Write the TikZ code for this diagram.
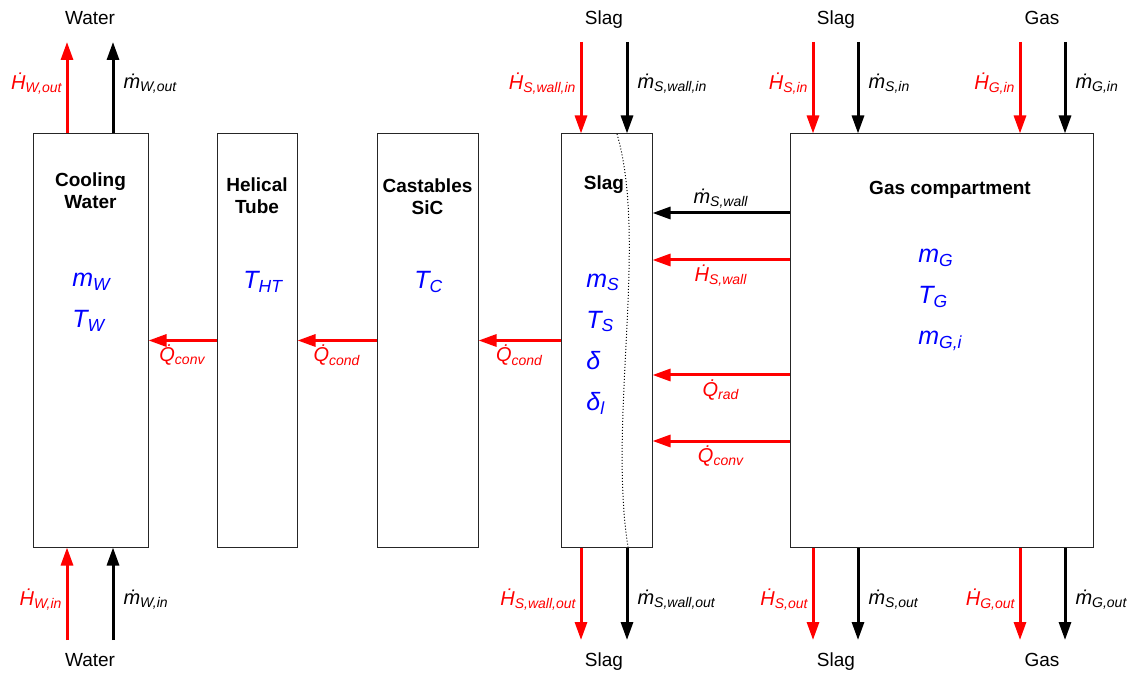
\documentclass[tikz,border=0pt]{standalone}
\usepackage{fontspec}
\setmainfont{Liberation Sans}
\usetikzlibrary{arrows.meta,positioning}
\definecolor{flowred}{RGB}{255,0,0}
\definecolor{varblue}{RGB}{0,0,255}
\newcommand{\rate}[2]{\textit{\.{#1}\textsubscript{#2}}}
\newcommand{\svar}[2]{\textit{#1\textsubscript{#2}}}
\tikzset{
  compbox/.style={draw=black!85,line width=0.5pt,minimum height=206.5pt,inner sep=0pt},
  boxtitle/.style={font=\bfseries\fontsize{9.5}{11}\selectfont,align=center},
  statevar/.style={text=varblue,font=\fontsize{12.5}{20.5}\selectfont,align=left,anchor=west,inner sep=0pt},
  streamlabel/.style={font=\fontsize{9.5}{11}\selectfont,text height=1.6ex,text depth=.4ex},
  enthalpyarrow/.style={-{Triangle[length=9pt,width=6pt]},line width=1.5pt,draw=flowred},
  massarrow/.style={-{Triangle[length=9pt,width=6pt]},line width=1.5pt,draw=black},
  fluxlabel/.style={font=\fontsize{10}{11}\selectfont,inner sep=1.5pt},
  heatlabel/.style={fluxlabel,text=flowred},
  frontline/.style={densely dotted,line width=0.5pt}
}

\begin{document}
\begin{tikzpicture}[x=0.5pt,y=-0.5pt]
  \useasboundingbox (0,0) rectangle (1129,673);
  % compartments
  \node[compbox,minimum width=57.5pt] (cw) at (90.5,340.5) {};
  \node[compbox,minimum width=40pt] (ht) at (257,340.5) {};
  \node[compbox,minimum width=50.5pt] (cs) at (427.5,340.5) {};
  \node[compbox,minimum width=45.5pt] (sl) at (606.5,340.5) {};
  \node[compbox,minimum width=151.5pt] (gas) at (941.5,340.5) {};
  \node[boxtitle] (cwtitle) at (90.5,191) {Cooling\\Water};
  \node[boxtitle] (httitle) at (257,196) {Helical\\Tube};
  \node[boxtitle] (cstitle) at (427.5,197) {Castables\\SiC};
  \node[boxtitle] (sltitle) at (604,185) {Slag};
  \node[boxtitle] (gastitle) at (950,190) {Gas compartment};
  \node[statevar] (cwvars) at (72,302) {\svar{m}{W}\\\svar{T}{W}};
  \node[statevar] (htvars) at (243,282) {\svar{T}{HT}};
  \node[statevar] (csvars) at (414,282) {\svar{T}{C}};
  \node[statevar] (slvars) at (586,344) {\svar{m}{S}\\\svar{T}{S}\\\textit{δ}\\\svar{δ}{l}};
  \node[statevar] (gasvars) at (918,300) {\svar{m}{G}\\\svar{T}{G}\\\svar{m}{G,i}};
  % slag front
  \draw[frontline] (617,134) .. controls (648,240) and (608,420) .. (628,547);

  % stream names
  \node[streamlabel] (waterout) at (90,18) {Water};
  \node[streamlabel] (waterin) at (90,660) {Water};
  \node[streamlabel] (slagwin) at (604,18) {Slag};
  \node[streamlabel] (slagwout) at (604,660) {Slag};
  \node[streamlabel] (slagin) at (836,18) {Slag};
  \node[streamlabel] (slagout) at (836,660) {Slag};
  \node[streamlabel] (gasin) at (1042,18) {Gas};
  \node[streamlabel] (gasout) at (1042,660) {Gas};

  % free ends of the stream arrows
  \coordinate (cwHtop) at (67,42);
  \coordinate (cwmtop) at (113,42);
  \coordinate (cwHbot) at (67,640);
  \coordinate (cwmbot) at (113,640);
  \coordinate (slHtop) at (581,42);
  \coordinate (slmtop) at (627,42);
  \coordinate (slHbot) at (581,640);
  \coordinate (slmbot) at (627,640);
  \coordinate (gsHtop) at (813,42);
  \coordinate (gsmtop) at (858,42);
  \coordinate (gsHbot) at (813,640);
  \coordinate (gsmbot) at (858,640);
  \coordinate (ggHtop) at (1020,42);
  \coordinate (ggmtop) at (1065,42);
  \coordinate (ggHbot) at (1020,640);
  \coordinate (ggmbot) at (1065,640);

  % water streams
  \draw[enthalpyarrow] (cw.north -| cwHtop) -- node[heatlabel,left,yshift=2pt] {\rate{H}{W,out}} (cwHtop);
  \draw[massarrow] (cw.north -| cwmtop) -- node[fluxlabel,right,xshift=3pt,yshift=2pt] {\rate{m}{W,out}} (cwmtop);
  \draw[enthalpyarrow] (cwHbot) -- node[heatlabel,left,yshift=-3pt] {\rate{H}{W,in}} (cw.south -| cwHbot);
  \draw[massarrow] (cwmbot) -- node[fluxlabel,right,xshift=3pt,yshift=-3pt] {\rate{m}{W,in}} (cw.south -| cwmbot);
  % slag wall streams
  \draw[enthalpyarrow] (slHtop) -- node[heatlabel,left,yshift=2pt] {\rate{H}{S,wall,in}} (sl.north -| slHtop);
  \draw[massarrow] (slmtop) -- node[fluxlabel,right,xshift=3pt,yshift=2pt] {\rate{m}{S,wall,in}} (sl.north -| slmtop);
  \draw[enthalpyarrow] (sl.south -| slHbot) -- node[heatlabel,left,yshift=-3pt] {\rate{H}{S,wall,out}} (slHbot);
  \draw[massarrow] (sl.south -| slmbot) -- node[fluxlabel,right,xshift=3pt,yshift=-3pt] {\rate{m}{S,wall,out}} (slmbot);
  % gas compartment streams
  \draw[enthalpyarrow] (gsHtop) -- node[heatlabel,left,yshift=2pt] {\rate{H}{S,in}} (gas.north -| gsHtop);
  \draw[massarrow] (gsmtop) -- node[fluxlabel,right,xshift=3pt,yshift=2pt] {\rate{m}{S,in}} (gas.north -| gsmtop);
  \draw[enthalpyarrow] (ggHtop) -- node[heatlabel,left,yshift=2pt] {\rate{H}{G,in}} (gas.north -| ggHtop);
  \draw[massarrow] (ggmtop) -- node[fluxlabel,right,xshift=3pt,yshift=2pt] {\rate{m}{G,in}} (gas.north -| ggmtop);
  \draw[enthalpyarrow] (gas.south -| gsHbot) -- node[heatlabel,left,yshift=-3pt] {\rate{H}{S,out}} (gsHbot);
  \draw[massarrow] (gas.south -| gsmbot) -- node[fluxlabel,right,xshift=3pt,yshift=-3pt] {\rate{m}{S,out}} (gsmbot);
  \draw[enthalpyarrow] (gas.south -| ggHbot) -- node[heatlabel,left,yshift=-3pt] {\rate{H}{G,out}} (ggHbot);
  \draw[massarrow] (gas.south -| ggmbot) -- node[fluxlabel,right,xshift=3pt,yshift=-3pt] {\rate{m}{G,out}} (ggmbot);

  % exchange between gas and slag
  \draw[massarrow] ([yshift=63.75pt]gas.west) -- node[fluxlabel,above] {\rate{m}{S,wall}} ([yshift=63.75pt]sl.east);
  \draw[enthalpyarrow] ([yshift=40.25pt]gas.west) -- node[heatlabel,below] {\rate{H}{S,wall}} ([yshift=40.25pt]sl.east);
  \draw[enthalpyarrow] ([yshift=-17.25pt]gas.west) -- node[heatlabel,below] {\rate{Q}{rad}} ([yshift=-17.25pt]sl.east);
  \draw[enthalpyarrow] ([yshift=-50.25pt]gas.west) -- node[heatlabel,below] {\rate{Q}{conv}} ([yshift=-50.25pt]sl.east);
  % heat through the wall
  \draw[enthalpyarrow] (sl.west) -- node[heatlabel,below] {\rate{Q}{cond}} (cs.east);
  \draw[enthalpyarrow] (cs.west) -- node[heatlabel,below] {\rate{Q}{cond}} (ht.east);
  \draw[enthalpyarrow] (ht.west) -- node[heatlabel,below] {\rate{Q}{conv}} (cw.east);
\end{tikzpicture}
\end{document}
